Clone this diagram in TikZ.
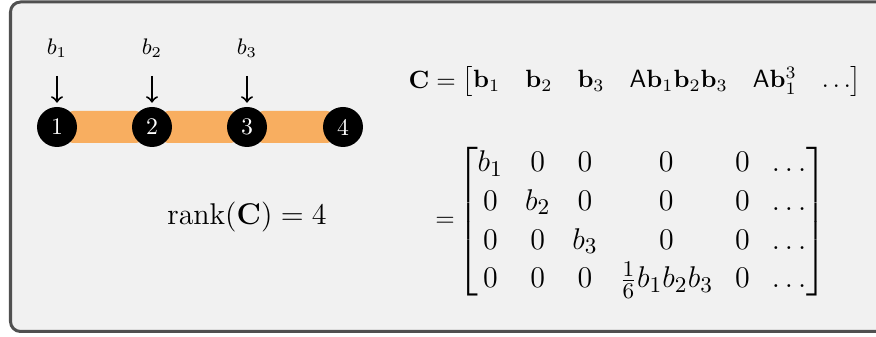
\documentclass[tikz,border=0pt]{standalone}
\usepackage{amsmath,amssymb}
\usepackage{xcolor}
\usetikzlibrary{positioning, calc, arrows.meta, backgrounds}

\definecolor{panelgray}{HTML}{F1F1F1}
\definecolor{framegray}{HTML}{505050}
\definecolor{bondorange}{HTML}{F8AE60}

\tikzset{
  site/.style={circle, fill=black, text=white, minimum size=16pt, inner sep=0pt, font=\fontsize{9.5}{11}\selectfont},
  bond/.style={fill=bondorange, rounded corners=2.5pt},
  inlabel/.style={font=\fontsize{9}{11}\selectfont},
  input/.style={->, line width=0.8pt, shorten <=4pt, shorten >=1.5pt},
}

\begin{document}
\begin{tikzpicture}[x=0.4pt, y=-0.4pt, >=to]
    \useasboundingbox (0,0) rectangle (876,337);

    % Panel
    \begin{scope}[on background layer]
        \draw[framegray, fill=panelgray, line width=1.2pt, rounded corners=4pt] (10.5,2) rectangle (900,331.5);
    \end{scope}

    % Sites
    \node[site] (n1) at (57,127) {1};
    \node[site] (n2) at (152,127) {2};
    \node[site] (n3) at (247,127) {3};
    \node[site] (n4) at (343,127) {4};

    % Bonds
    \begin{scope}[on background layer]
        \fill[bond] ($(n1)+(10,-16)$) rectangle ($(n2)+(-10,16)$);
        \fill[bond] ($(n2)+(10,-16)$) rectangle ($(n3)+(-10,16)$);
        \fill[bond] ($(n3)+(10,-16)$) rectangle ($(n4)+(-10,16)$);
    \end{scope}

    % Inputs
    \node[inlabel] (b1) at (57,48) {$b_1$};
    \node[inlabel] (b2) at (152,48) {$b_2$};
    \node[inlabel] (b3) at (247,48) {$b_3$};
    \draw[input] (b1) -- (n1);
    \draw[input] (b2) -- (n2);
    \draw[input] (b3) -- (n3);

    % Rank
    \node[font=\fontsize{12.8}{15}\selectfont] (rank) at (247,217) {$\operatorname{rank}(\mathbf{C}) = 4$};

    % Controllability matrix
    \node[font=\fontsize{10}{12}\selectfont] (crow) at (635,82)
        {$\mathbf{C} = \begin{bmatrix} \mathbf{b}_1 & \mathbf{b}_2 & \mathbf{b}_3 & \mathsf{A}\mathbf{b}_1\mathbf{b}_2\mathbf{b}_3 & \mathsf{A}\mathbf{b}_1^3 & \dots \end{bmatrix}$};
    \node[font=\fontsize{10}{12}\selectfont, inner sep=0pt] (eq) at (445,222) {$=$};
    \node[font=\fontsize{12.4}{15.5}\selectfont, inner sep=0pt] (cmat) at (642,222)
        {\setlength{\arraycolsep}{4.4pt}$\begin{bmatrix}
            b_1 & 0 & 0 & 0 & 0 & \dots \\
            0 & b_2 & 0 & 0 & 0 & \dots \\
            0 & 0 & b_3 & 0 & 0 & \dots \\
            0 & 0 & 0 & \frac{1}{6}b_1b_2b_3 & 0 & \dots
        \end{bmatrix}$};
\end{tikzpicture}
\end{document}
